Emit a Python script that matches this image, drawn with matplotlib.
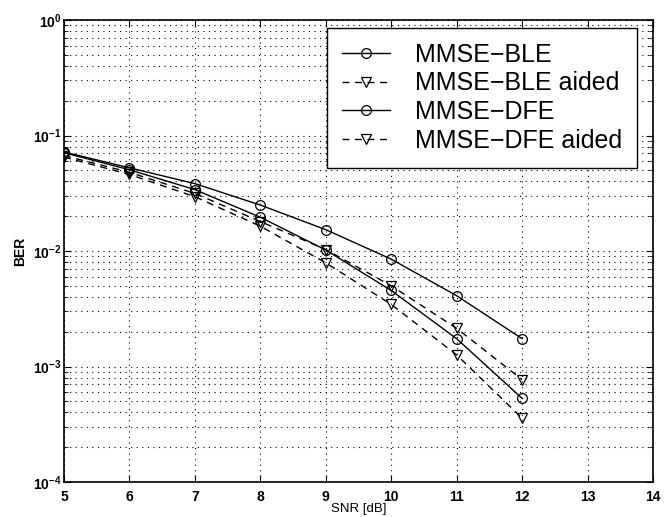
import matplotlib
matplotlib.use("Agg")
import matplotlib.pyplot as plt
from matplotlib.ticker import LogLocator, NullFormatter

plt.rcParams['font.family'] = ['Liberation Sans', 'DejaVu Sans']

# SNR points and BER curves
snr = [5, 6, 7, 8, 9, 10, 11, 12]
ber_ble = [0.072, 0.0525, 0.0383, 0.025, 0.0153, 0.0085, 0.0041, 0.00174]
ber_ble_aided = [0.067, 0.048, 0.0315, 0.018, 0.0103, 0.0050, 0.00214, 0.00077]
ber_dfe = [0.071, 0.0505, 0.034, 0.0196, 0.0102, 0.00455, 0.00174, 0.00053]
ber_dfe_aided = [0.065, 0.046, 0.0295, 0.0164, 0.0079, 0.00345, 0.00126, 0.000357]
labels = ['MMSE\u2212BLE', 'MMSE\u2212BLE aided', 'MMSE\u2212DFE', 'MMSE\u2212DFE aided']

W, H = 667, 517
fig = plt.figure(figsize=(W / 100, H / 100), dpi=100)
ax = fig.add_axes([64 / W, 1 - 482 / H, 589 / W, 462 / H])

style = dict(color='black', lw=1.0, ms=7, mfc='none', mec='black', mew=0.9)
ax.semilogy(snr, ber_ble, '-o', label=labels[0], **style)
ax.semilogy(snr, ber_ble_aided, '--v', label=labels[1], dashes=(5, 4), **style)
ax.semilogy(snr, ber_dfe, '-o', label=labels[2], **style)
ax.semilogy(snr, ber_dfe_aided, '--v', label=labels[3], dashes=(5, 4), **style)

ax.set_xlim(5, 14)
ax.set_ylim(1e-4, 1)
ax.set_xticks(range(5, 15))
ax.yaxis.set_major_locator(LogLocator(base=10, numticks=10))
ax.yaxis.set_minor_locator(LogLocator(base=10, subs=range(2, 10), numticks=20))
ax.yaxis.set_minor_formatter(NullFormatter())

# dotted grid, MATLAB style
grid_kw = dict(color='black', linestyle=(0, (1, 4)), linewidth=0.8)
ax.grid(True, which='major', axis='both', **grid_kw)
ax.grid(True, which='minor', axis='y', **grid_kw)

ax.tick_params(which='both', direction='in', top=True, right=True, labelsize=10)
ax.tick_params(which='major', length=5)
ax.tick_params(which='minor', length=3)
ax.tick_params(axis='x', pad=6)
ax.tick_params(axis='y', pad=2)
for lab in ax.get_xticklabels() + ax.get_yticklabels():
    lab.set_fontweight('bold')
for sp in ax.spines.values():
    sp.set_linewidth(1.2)

ax.set_xlabel('SNR [dB]', fontsize=9.5, labelpad=-1)
ax.set_ylabel('BER', fontsize=10, fontweight='bold')
ax.yaxis.set_label_coords(-0.063, 0.5)

leg = ax.legend(loc='upper right', fontsize=18, frameon=True, fancybox=False,
                edgecolor='black', framealpha=1, handlelength=1.9,
                borderpad=0.6, labelspacing=0.18, handletextpad=1.0,
                borderaxespad=0, bbox_to_anchor=(637 / W, 1 - 28 / H),
                bbox_transform=fig.transFigure)
leg.get_frame().set_linewidth(1.0)

fig.savefig('out.png', dpi=100)
